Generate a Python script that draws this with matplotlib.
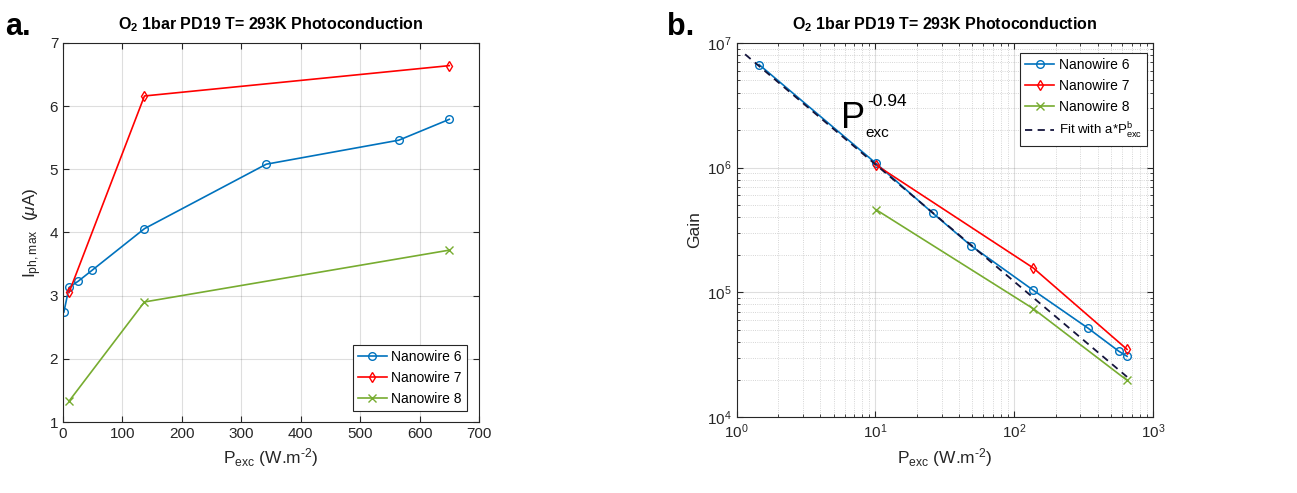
import numpy as np
import matplotlib.pyplot as plt

plt.rcParams['font.family'] = ['Liberation Sans', 'DejaVu Sans']
plt.rcParams['mathtext.fontset'] = 'custom'
plt.rcParams['mathtext.rm'] = 'Liberation Sans'
plt.rcParams['mathtext.it'] = 'Liberation Sans:italic'
plt.rcParams['mathtext.default'] = 'regular'

# data read from the reference
# panel a: photocurrent (uA) vs excitation power (W.m-2)
p6 = [1.45, 10.1, 25.8, 48.7, 137, 342, 565, 650]
i6 = [2.74, 3.13, 3.23, 3.40, 4.06, 5.08, 5.46, 5.79]
p7 = [10.1, 137, 650]
i7 = [3.05, 6.16, 6.64]
p8 = [10.1, 137, 650]
i8 = [1.33, 2.90, 3.72]

# panel b: gain vs excitation power
g6 = [6.7e6, 1.08e6, 4.33e5, 2.37e5, 1.04e5, 5.14e4, 3.38e4, 3.07e4]
g7 = [1.05e6, 1.57e5, 3.49e4]
g8 = [4.6e5, 7.4e4, 1.97e4]
fit_p = [1.15, 650]
fit_g = [8.1e6, 2.1e4]

labels = ['Nanowire 6', 'Nanowire 7', 'Nanowire 8']
colors = ['#0072BD', '#FF0000', '#77AC30']
markers = ['o', 'd', 'x']

dark = '#262626'
title = 'O$_2$ 1bar PD19 T= 293K Photoconduction'
xlab = 'P$_{exc}$ (W.m$^{\\text{-}2}$)'

fig = plt.figure(figsize=(12.97, 4.93), dpi=100)
ax1 = fig.add_axes([0.0486, 0.144, 0.3207, 0.769])
ax2 = fig.add_axes([0.568, 0.154, 0.321, 0.759])

# panel a
for px, py, c, m, lab in zip([p6, p7, p8], [i6, i7, i8], colors, markers, labels):
    ax1.plot(px, py, color=c, marker=m, mfc='none', ms=5.5, lw=1.2, mew=1.0, label=lab)
ax1.set_xlim(0, 700)
ax1.set_ylim(1, 7)
ax1.set_xticks(np.arange(0, 701, 100))
ax1.set_yticks(np.arange(1, 8, 1))
ax1.grid(True, color=dark, alpha=0.15, lw=0.8)
ax1.set_xlabel(xlab, fontsize=12.5, color=dark)
ax1.set_ylabel('I$_{ph,max}$  ($\\mathit{\\mu}$A)', fontsize=12.5, color=dark)
ax1.set_title(title, fontsize=11.5, fontweight='bold', pad=10)
leg1 = ax1.legend(loc='lower right', bbox_to_anchor=(0.97, 0.03), fontsize=10,
                  fancybox=False, edgecolor=dark, framealpha=1, handlelength=2.1,
                  borderaxespad=0, labelspacing=0.5, handletextpad=0.3, borderpad=0.35)
leg1.get_frame().set_linewidth(0.8)

# panel b
for px, py, c, m, lab in zip([p6, p7, p8], [g6, g7, g8], colors, markers, labels):
    ax2.plot(px, py, color=c, marker=m, mfc='none', ms=5.5, lw=1.2, mew=1.0, label=lab)
ax2.plot(fit_p, fit_g, color='#14143c', ls=(0, (4, 3)), lw=1.3, label='Fit with a*P$^{b}_{exc}$')
ax2.set_xscale('log')
ax2.set_yscale('log')
ax2.set_xlim(1, 1000)
ax2.set_ylim(1e4, 1e7)
ax2.grid(True, which='major', color=dark, alpha=0.15, lw=0.8)
ax2.grid(True, which='minor', color=dark, alpha=0.25, lw=0.6, ls=':')
ax2.set_xlabel(xlab, fontsize=12.5, color=dark)
ax2.set_ylabel('Gain', fontsize=12.5, color=dark)
ax2.set_title(title, fontsize=11.5, fontweight='bold', pad=10)
# power law annotation
ax2.text(0.25, 0.773, 'P', transform=ax2.transAxes, fontsize=26, color='black')
ax2.text(0.313, 0.832, '-0.94', transform=ax2.transAxes, fontsize=12.5, color='black')
ax2.text(0.31, 0.749, 'exc', transform=ax2.transAxes, fontsize=11, color='black')
leg2 = ax2.legend(loc='upper right', bbox_to_anchor=(0.985, 0.973), fontsize=10,
                  fancybox=False, edgecolor=dark, framealpha=1, handlelength=2.1,
                  borderaxespad=0, labelspacing=0.5, handletextpad=0.3, borderpad=0.35)
leg2.get_frame().set_linewidth(0.8)
leg2.get_texts()[3].set_fontsize(9.5)

for ax in (ax1, ax2):
    ax.tick_params(which='both', direction='in', top=True, right=True,
                   colors=dark, labelsize=11)
    ax.tick_params(which='major', length=4)
    ax.tick_params(which='minor', length=2)
    for s in ax.spines.values():
        s.set_color(dark)
        s.set_linewidth(0.8)
    ax.set_axisbelow(True)

fig.text(0.004, 0.93, 'a.', fontsize=22, fontweight='bold')
fig.text(0.514, 0.93, 'b.', fontsize=22, fontweight='bold')

fig.savefig('out.png', dpi=100)
